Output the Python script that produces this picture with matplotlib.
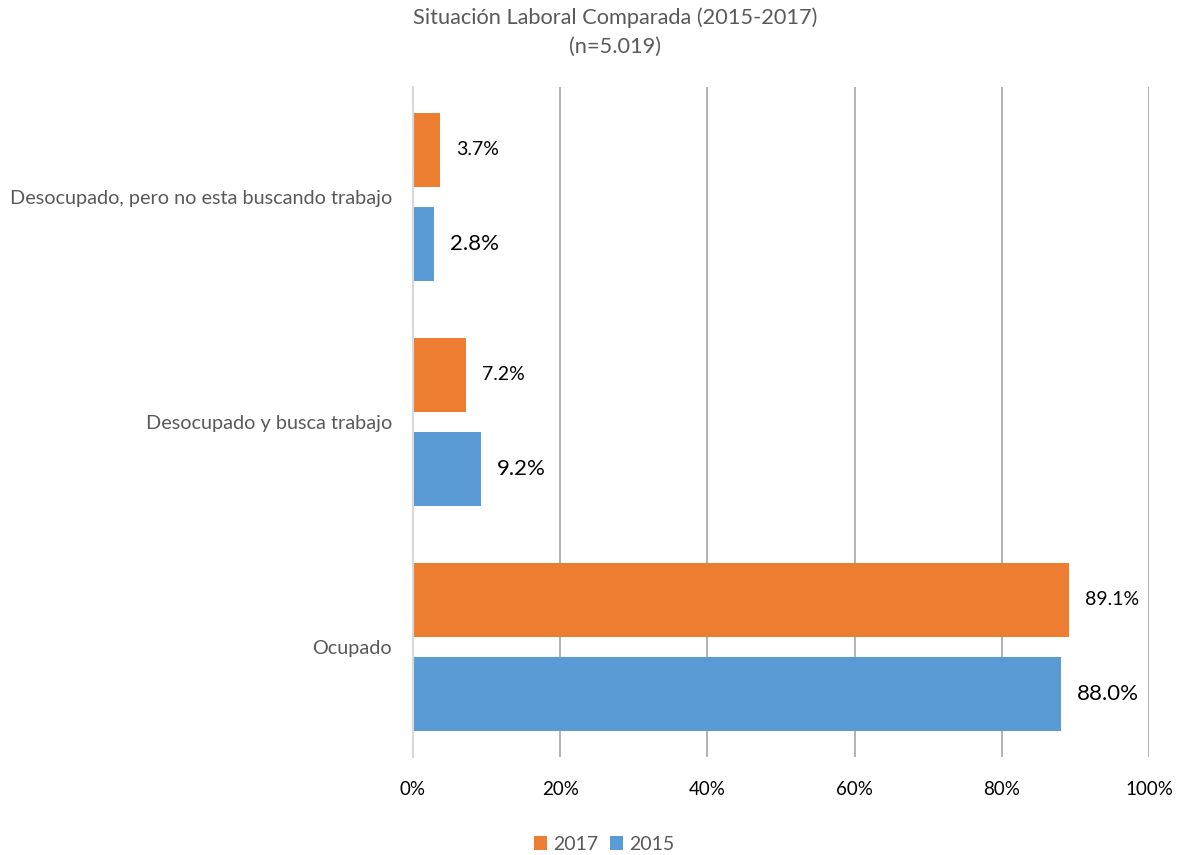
import matplotlib
matplotlib.use("Agg")
import matplotlib.pyplot as plt
import numpy as np

categories = ["Ocupado", "Desocupado y busca trabajo", "Desocupado, pero no esta buscando trabajo"]
values_2017 = [89.1, 7.2, 3.7]
values_2015 = [88.0, 9.2, 2.8]
x_ticks = [0, 20, 40, 60, 80, 100]
x_ticklabels = ["0%", "20%", "40%", "60%", "80%", "100%"]

plt.rcParams['font.family'] = ['Lato', 'DejaVu Sans']

fig = plt.figure(figsize=(11.8, 8.55), dpi=100)
ax = fig.add_axes([413/1180, 1-757/855, (1149-413)/1180, (757-87)/855])

c17 = "#ED7D31"
c15 = "#5B9BD5"
y = np.arange(len(categories))
h = 0.333
off = 0.209
b17 = ax.barh(y + off, values_2017, height=h, color=c17, label="2017", zorder=3)
b15 = ax.barh(y - off, values_2015, height=h, color=c15, label="2015", zorder=3)

for v, yy in zip(values_2017, y + off):
    ax.annotate(f"{v:.1f}%", (v, yy), xytext=(11.5, 0), textcoords="offset points",
                va="center", ha="left", fontsize=14, color="#000000")
for v, yy in zip(values_2015, y - off):
    ax.annotate(f"{v:.1f}%", (v, yy), xytext=(11.5, 0), textcoords="offset points",
                va="center", ha="left", fontsize=16, color="#000000")

ax.set_xlim(0, 100)
ax.set_ylim(-0.489, 2.489)
ax.set_xticks(x_ticks)
ax.set_xticklabels(x_ticklabels, fontsize=13.5, color="#000000")
ax.set_yticks(y)
ax.set_yticklabels(categories, fontsize=14.3, color="#595959")
ax.tick_params(axis="both", length=0)
ax.tick_params(axis="x", pad=17)
ax.tick_params(axis="y", pad=15)
ax.grid(axis="x", color="#A6A6A6", linewidth=1.2, zorder=0)
for s in ["top", "right", "bottom"]:
    ax.spines[s].set_visible(False)
ax.spines["left"].set_color("#D9D9D9")
ax.spines["left"].set_linewidth(1.5)
ax.spines["left"].set_zorder(4)

fig.text(615/1180, 1-18/855, "Situación Laboral Comparada (2015-2017)", ha="center", va="center",
         fontsize=15.7, color="#595959")
fig.text(615/1180, 1-47/855, "(n=5.019)", ha="center", va="center", fontsize=15.7, color="#595959")

fig.legend(handles=[b17, b15], labels=["2017", "2015"], loc="center", bbox_to_anchor=(604/1180, 1-844/855),
           ncol=2, frameon=False, fontsize=14, handlelength=0.7, handleheight=0.7, columnspacing=0.6,
           handletextpad=0.3, labelcolor="#595959")

fig.savefig("out.png", dpi=100)
